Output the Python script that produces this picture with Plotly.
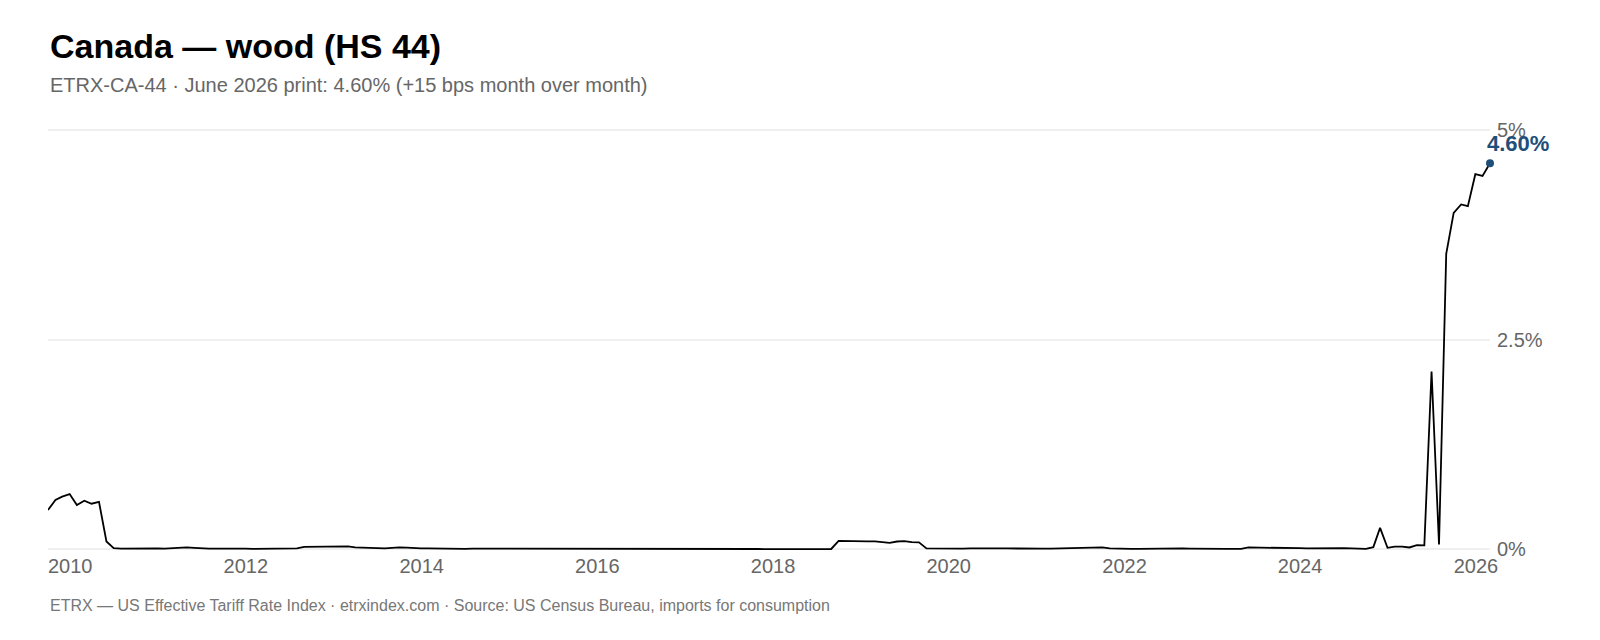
import pandas as pd
import plotly.graph_objects as go

# Série mensuelle ETRX-CA-44 (en %), janvier 2010 -> juin 2026
start_month = "2010-01-01"
etrx_values = [
    0.47, 0.59, 0.63, 0.66, 0.53, 0.58, 0.545, 0.567, 0.095, 0.016, 0.010, 0.012,   # 2010
    0.010, 0.012, 0.010, 0.012, 0.010, 0.014, 0.018, 0.024, 0.018, 0.012, 0.010, 0.010,   # 2011
    0.012, 0.014, 0.010, 0.010, 0.008, 0.010, 0.008, 0.008, 0.010, 0.010, 0.012, 0.030,   # 2012
    0.032, 0.030, 0.028, 0.030, 0.034, 0.036, 0.025, 0.022, 0.015, 0.012, 0.012, 0.018,   # 2013
    0.026, 0.022, 0.015, 0.012, 0.012, 0.010, 0.010, 0.012, 0.010, 0.008, 0.010, 0.010,   # 2014
    0.008, 0.010, 0.012, 0.010, 0.010, 0.012, 0.014, 0.012, 0.010, 0.008, 0.008, 0.010,   # 2015
    0.012, 0.010, 0.008, 0.010, 0.010, 0.008, 0.006, 0.006, 0.008, 0.008, 0.006, 0.006,   # 2016
    0.008, 0.008, 0.006, 0.006, 0.008, 0.008, 0.006, 0.006, 0.006, 0.006, 0.006, 0.006,   # 2017
    0.006, 0.006, 0.004, 0.004, 0.006, 0.006, 0.006, 0.004, 0.004, 0.004, 0.004, 0.006,   # 2018
    0.103, 0.100, 0.097, 0.095, 0.097, 0.097, 0.085, 0.078, 0.095, 0.100, 0.088, 0.085,   # 2019
    0.012, 0.010, 0.010, 0.008, 0.010, 0.010, 0.012, 0.010, 0.008, 0.010, 0.012, 0.012,   # 2020
    0.010, 0.008, 0.008, 0.008, 0.010, 0.010, 0.012, 0.010, 0.010, 0.012, 0.012, 0.014,   # 2021
    0.024, 0.014, 0.010, 0.010, 0.008, 0.008, 0.010, 0.010, 0.010, 0.010, 0.012, 0.012,   # 2022
    0.010, 0.008, 0.008, 0.008, 0.008, 0.008, 0.008, 0.008, 0.024, 0.024, 0.022, 0.018,   # 2023
    0.016, 0.016, 0.018, 0.016, 0.014, 0.016, 0.016, 0.014, 0.016, 0.016, 0.014, 0.012,   # 2024
    0.008, 0.028, 0.258, 0.020, 0.035, 0.035, 0.024, 0.052, 0.050, 2.120, 0.060, 3.520,   # 2025
    4.01, 4.11, 4.09, 4.47, 4.45, 4.60,                                                   # 2026
]
months = pd.date_range(start_month, periods=len(etrx_values), freq="MS")

x_tick_years = ["2010-01-01", "2012-01-01", "2014-01-01", "2016-01-01",
                "2018-01-01", "2020-01-01", "2022-01-01", "2024-01-01", "2026-01-01"]
y_tick_vals = [0, 2.5, 5]
y_tick_text = ["0%", "2.5%", "5%"]

title_text = "Canada — wood (HS 44)"
subtitle_text = "ETRX-CA-44 · June 2026 print: 4.60% (+15 bps month over month)"
footer_text = "ETRX — US Effective Tariff Rate Index · etrxindex.com · Source: US Census Bureau, imports for consumption"

FONT = "Liberation Sans, Arial, Helvetica, sans-serif"
BLUE = "#1f4e79"

# la page ajoute 8 px de marge autour de la figure
W, H = 1592, 632
y_range = [-0.03, 5.02]
plot_bottom = 544.5
plot_top = plot_bottom - (y_range[1] - y_range[0]) * 84

fig = go.Figure()
fig.add_trace(go.Scatter(
    x=months, y=etrx_values, mode="lines",
    line=dict(color="#000000", width=1.8),
    hoverinfo="skip", showlegend=False
))
fig.add_trace(go.Scatter(
    x=[months[-1]], y=[etrx_values[-1]], mode="markers",
    marker=dict(color=BLUE, size=8), cliponaxis=False,
    hoverinfo="skip", showlegend=False
))

def paper_y(px):
    return (plot_bottom - px) / (plot_bottom - plot_top)

fig.add_annotation(text="<b>%s</b>" % title_text, x=0, y=paper_y(38), xref="paper", yref="paper",
                   xanchor="left", yanchor="middle", showarrow=False,
                   font=dict(family=FONT, size=34, color="#000000"))
fig.add_annotation(text=subtitle_text, x=0, y=paper_y(77), xref="paper", yref="paper",
                   xanchor="left", yanchor="middle", showarrow=False,
                   font=dict(family=FONT, size=20, color="#666666"))
fig.add_annotation(text=footer_text, x=0, y=paper_y(598), xref="paper", yref="paper",
                   xanchor="left", yanchor="middle", showarrow=False,
                   font=dict(family=FONT, size=16, color="#777777"))
fig.add_annotation(text="<b>%.2f%%</b>" % etrx_values[-1], x=months[-1], y=etrx_values[-1],
                   xanchor="left", yanchor="middle", xshift=-5, yshift=20, showarrow=False,
                   font=dict(family=FONT, size=22, color=BLUE))

fig.update_xaxes(
    range=[months[0], months[-1]], tickvals=x_tick_years, tickformat="%Y",
    ticklabelposition="outside right", showgrid=False, zeroline=False, showline=False,
    ticks="", tickfont=dict(family=FONT, size=20, color="#666666")
)
fig.update_yaxes(
    range=y_range, side="right", tickvals=y_tick_vals, ticktext=y_tick_text,
    showgrid=True, gridcolor="#efefef", gridwidth=1.5, zeroline=False, showline=False,
    ticks="", ticklabelstandoff=6, tickfont=dict(family=FONT, size=20, color="#666666")
)
fig.update_layout(
    width=W, height=H,
    margin=dict(l=40, r=W - 1482, t=plot_top, b=H - plot_bottom),
    plot_bgcolor="white", paper_bgcolor="white",
    font=dict(family=FONT)
)

fig.write_html("out.html")
